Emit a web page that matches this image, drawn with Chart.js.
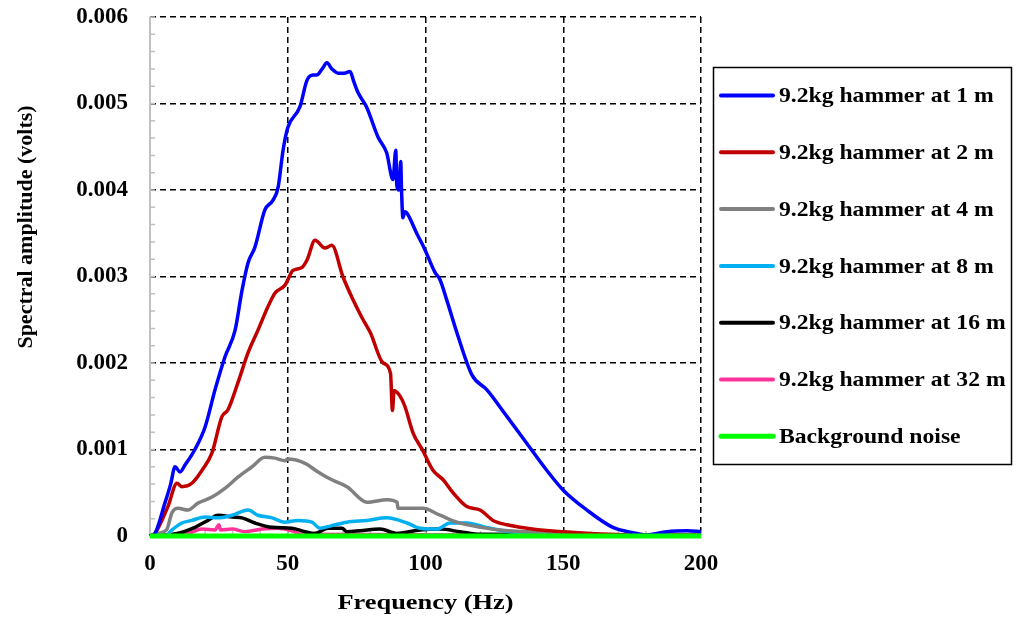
<!DOCTYPE html>
<html>
<head>
<meta charset="utf-8">
<script src="https://cdn.jsdelivr.net/npm/chart.js@4.4.1/dist/chart.umd.min.js"></script>
<style>
  html, body { margin: 0; padding: 0; background: #fff; }
</style>
</head>
<body>
<canvas id="spectrum" width="1020" height="621"></canvas>
<script>
// frequency (Hz) / spectral amplitude (volts)
const freq1m = [0, 1.8, 5.4, 7.5, 9.1, 10.9, 12.7, 16.3, 20, 23.6, 27.2, 30.9, 33.4, 35.6, 38.1, 41.7, 44.6, 46.5, 48.3, 50, 54.4, 57, 59.2, 60.5, 62.5, 64.2, 66, 68.3, 70.5, 72.6, 74, 75.6, 78.6, 82.8, 85.9, 88.2, 89.2, 89.6, 90.3, 91.0, 91.3, 91.8, 92.5, 93.3, 96.8, 99.8, 103.4, 105.3, 107.7, 111.4, 116.9, 122.3, 129.6, 136.8, 144, 150, 158.6, 168, 176.7, 180, 187.6, 195, 200];
const amp1m = [0, 0.00003, 0.00038, 0.0006, 0.0008, 0.00074, 0.00082, 0.001, 0.00126, 0.00169, 0.00207, 0.00238, 0.00284, 0.00316, 0.00334, 0.00377, 0.00388, 0.00403, 0.00446, 0.00472, 0.00496, 0.00527, 0.00533, 0.00533, 0.0054, 0.00547, 0.0054, 0.00535, 0.00535, 0.00537, 0.00525, 0.00512, 0.00496, 0.00461, 0.00443, 0.00412, 0.00446, 0.00405, 0.004, 0.00433, 0.004, 0.00368, 0.00375, 0.00373, 0.0035, 0.00331, 0.00305, 0.00296, 0.00273, 0.00235, 0.00186, 0.00169, 0.00138, 0.00107, 0.00076, 0.00053, 0.0003, 0.0001, 0.00003, 0.00001, 0.00005, 0.00006, 0.00005];

const freq2m = [0, 1.8, 6.5, 9.8, 11.6, 15.2, 18.9, 22.5, 26.1, 28.3, 31.9, 35.6, 39.2, 42.8, 45.4, 49, 51.9, 55, 57, 59.9, 63.5, 66, 70, 73.7, 77, 80, 84.6, 87.3, 88, 88.6, 90.7, 92.5, 95.5, 99, 102.7, 106.4, 110, 115, 119.8, 124.5, 129.6, 136.8, 145, 160, 180, 200];
const amp2m = [0, 0.00003, 0.00034, 0.00061, 0.00057, 0.00061, 0.00076, 0.00096, 0.00138, 0.00146, 0.00177, 0.00212, 0.00238, 0.00265, 0.00281, 0.0029, 0.00307, 0.0031, 0.00319, 0.00342, 0.00333, 0.00336, 0.003, 0.00273, 0.00252, 0.00235, 0.002, 0.00188, 0.00145, 0.00168, 0.00162, 0.0015, 0.00119, 0.00099, 0.00076, 0.00065, 0.0005, 0.00034, 0.0003, 0.00018, 0.00013, 0.00009, 0.00006, 0.00003, 0.00001, 0.00001];

const freq4m = [0, 3, 6, 8, 10.2, 13.8, 17.4, 22.5, 27.2, 31.9, 37, 41.7, 45.4, 49, 50, 56.3, 61, 64.2, 66, 71.5, 78.8, 86, 89.7, 90, 99, 105.3, 111.4, 120, 130, 145, 160, 200];
const amp4m = [0, 0.00003, 0.00007, 0.00027, 0.00032, 0.0003, 0.00038, 0.00045, 0.00055, 0.00068, 0.0008, 0.00091, 0.0009, 0.00087, 0.00089, 0.00084, 0.00074, 0.00068, 0.00065, 0.00057, 0.00039, 0.00042, 0.00039, 0.00032, 0.00032, 0.00024, 0.00016, 0.0001, 0.00006, 0.00004, 0.00002, 0.00001];

const freq8m = [0, 6, 8, 11.6, 15.2, 20, 24.7, 29.8, 35.6, 39.2, 44.3, 49, 53.7, 58.8, 61.7, 66, 71.5, 78.8, 86, 93.3, 98, 104.2, 108.9, 115, 122, 130.7, 150, 200];
const amp8m = [0, 0.00001, 0.00007, 0.00015, 0.00018, 0.00022, 0.00021, 0.00024, 0.0003, 0.00024, 0.00021, 0.00016, 0.00018, 0.00016, 0.00009, 0.00012, 0.00016, 0.00018, 0.00021, 0.00015, 0.00009, 0.00008, 0.00015, 0.00015, 0.0001, 0.00005, 0.00002, 0.00001];

const freq16m = [0, 10, 16.3, 21, 24.7, 29.8, 33.4, 38.1, 44.3, 51.5, 56.3, 59.9, 64.6, 69.7, 71.5, 76.2, 83.5, 89.7, 98, 105.3, 112.5, 120, 200];
const amp16m = [0, 0.00003, 0.0001, 0.00018, 0.00024, 0.00022, 0.00021, 0.00015, 0.0001, 0.00009, 0.00005, 0.00003, 0.00009, 0.00009, 0.00005, 0.00006, 0.00008, 0.00003, 0.00007, 0.00008, 0.00005, 0.00002, 0.00001];

const freq32m = [0, 13.8, 18.9, 23.6, 25, 25.6, 29.8, 34.5, 40.7, 46.5, 51.5, 55, 200];
const amp32m = [0, 0.00003, 0.00008, 0.00007, 0.00013, 0.00007, 0.00008, 0.00005, 0.00008, 0.00009, 0.00006, 0.00002, 0];

const freqNoise = [0, 50, 100, 150, 200];
const ampNoise = [0, 0, 0, 0, 0];

const seriesLabels = ['9.2kg hammer at 1 m', '9.2kg hammer at 2 m', '9.2kg hammer at 4 m', '9.2kg hammer at 8 m', '9.2kg hammer at 16 m', '9.2kg hammer at 32 m', 'Background noise'];
const seriesColors = ['#0000ff', '#c00000', '#808080', '#00b0f0', '#000000', '#ff3399', '#00ff00'];

const xTicks = [0, 50, 100, 150, 200];
const yTicks = [0, 0.001, 0.002, 0.003, 0.004, 0.005, 0.006];
const xTitle = 'Frequency (Hz)';
const yTitle = 'Spectral amplitude (volts)';

const FONT = '"Liberation Serif", "Times New Roman", serif';

function toPoints(xs, ys) {
  return xs.map((x, i) => ({ x: x, y: ys[i] }));
}

const allSeries = [
  toPoints(freq1m, amp1m),
  toPoints(freq2m, amp2m),
  toPoints(freq4m, amp4m),
  toPoints(freq8m, amp8m),
  toPoints(freq16m, amp16m),
  toPoints(freq32m, amp32m),
  toPoints(freqNoise, ampNoise)
];

// text a bit wider than the font, like the original export
function wideText(ctx, text, x, y, sx, rot) {
  ctx.save();
  ctx.translate(x, y);
  if (rot) ctx.rotate(rot);
  ctx.scale(sx, 1);
  ctx.fillText(text, 0, 0);
  ctx.restore();
}

// gray axis lines with small inward minor ticks
const axisDecor = {
  id: 'axisDecor',
  beforeDatasetsDraw(chart) {
    const { ctx, chartArea: a, scales: { x, y } } = chart;
    ctx.save();
    ctx.strokeStyle = '#c0c0c0';
    ctx.lineWidth = 2;
    ctx.beginPath();
    ctx.moveTo(a.left, a.top);
    ctx.lineTo(a.left, a.bottom);
    ctx.lineTo(a.right, a.bottom);
    ctx.stroke();
    ctx.lineWidth = 1.5;
    ctx.beginPath();
    for (let i = 0; i <= 30; i++) {
      const py = y.getPixelForValue(i * 0.0002);
      ctx.moveTo(a.left, py);
      ctx.lineTo(a.left + 5, py);
    }
    for (let i = 0; i <= 20; i++) {
      const px = x.getPixelForValue(i * 10);
      ctx.moveTo(px, a.bottom);
      ctx.lineTo(px, a.bottom - 5);
    }
    ctx.stroke();
    ctx.restore();
  }
};

// axis titles + boxed legend on the right
const boxLegend = {
  id: 'boxLegend',
  afterDraw(chart) {
    const { ctx, chartArea: a } = chart;
    ctx.save();
    ctx.fillStyle = '#000';
    ctx.font = 'bold 22px ' + FONT;
    ctx.textAlign = 'center';
    ctx.textBaseline = 'middle';
    wideText(ctx, xTitle, (a.left + a.right) / 2, 603, 1.2, 0);
    wideText(ctx, yTitle, 26, 227, 1, -Math.PI / 2);

    ctx.strokeStyle = '#000';
    ctx.lineWidth = 1.5;
    ctx.strokeRect(713.5, 67.5, 298, 397);
    ctx.textAlign = 'left';
    chart.data.datasets.forEach((ds, i) => {
      const rowY = 95.5 + i * 56.8;
      ctx.strokeStyle = ds.borderColor;
      ctx.lineWidth = i === 6 ? 5 : 4;
      ctx.lineCap = 'round';
      ctx.beginPath();
      ctx.moveTo(721, rowY);
      ctx.lineTo(773, rowY);
      ctx.stroke();
      wideText(ctx, ds.label, 779, rowY + 1, 1.075, 0);
    });
    ctx.restore();
  }
};

const gridColor = (c) => (c.tick && c.tick.value === 0) ? 'rgba(0,0,0,0)' : '#000';

new Chart(document.getElementById('spectrum'), {
  type: 'line',
  data: {
    datasets: allSeries.map((pts, i) => ({
      label: seriesLabels[i],
      data: pts,
      borderColor: seriesColors[i],
      backgroundColor: seriesColors[i],
      borderWidth: i === 6 ? 5 : 3.5,
      pointRadius: 0,
      cubicInterpolationMode: 'monotone',
      clip: 8,
      order: i === 6 ? -1 : i
    }))
  },
  options: {
    responsive: false,
    animation: false,
    layout: { padding: { top: 17, right: 319, left: 0, bottom: 0 } },
    plugins: { legend: { display: false }, tooltip: { enabled: false } },
    scales: {
      x: {
        type: 'linear',
        min: 0,
        max: 200,
        afterFit: (s) => { s.height = 85; s.paddingTop = 0; s.paddingBottom = 0; },
        afterBuildTicks: (s) => { s.ticks = xTicks.map(v => ({ value: v })); },
        grid: { color: gridColor, lineWidth: 1.5, drawTicks: false },
        border: { display: false, dash: [6, 4] },
        ticks: { color: '#000', font: { family: FONT, size: 23, weight: 'bold' }, padding: 14, maxRotation: 0 }
      },
      y: {
        min: 0,
        max: 0.006,
        afterFit: (s) => { s.width = 150; s.paddingTop = 0; s.paddingBottom = 0; },
        afterBuildTicks: (s) => { s.ticks = yTicks.map(v => ({ value: v })); },
        grid: { color: gridColor, lineWidth: 1.5, drawTicks: false },
        border: { display: false, dash: [6, 4] },
        ticks: {
          color: '#000',
          font: { family: FONT, size: 23, weight: 'bold' },
          padding: 22,
          callback: (v) => v === 0 ? '0' : Number(v).toFixed(3)
        }
      }
    }
  },
  plugins: [axisDecor, boxLegend]
});
</script>
</body>
</html>
